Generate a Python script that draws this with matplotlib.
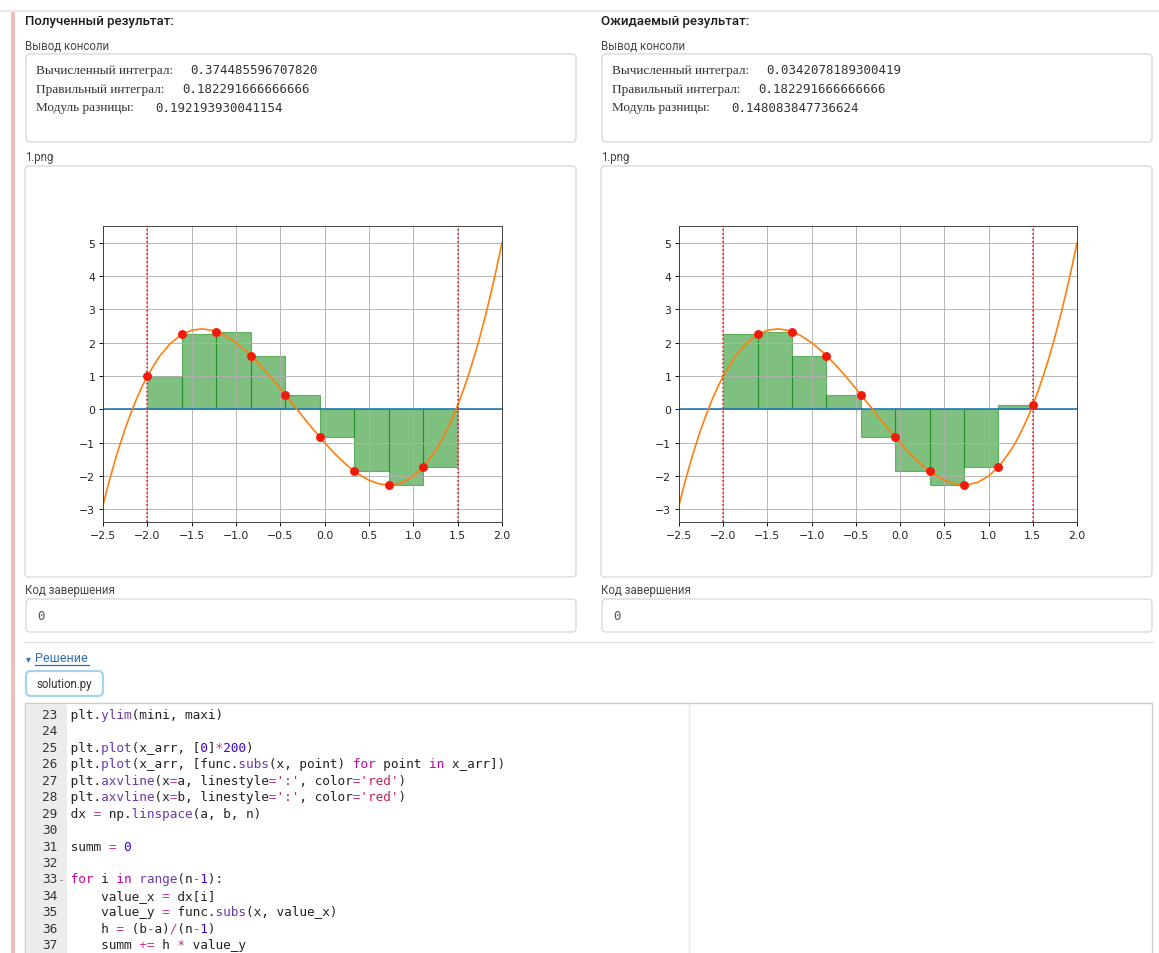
import re
import numpy as np
import matplotlib.pyplot as plt
from matplotlib.patches import FancyBboxPatch, Rectangle

W, H = 1159, 954

# integration grid np.linspace(a, b, n) and the function values at its nodes
node_x = [-2.0, -1.611, -1.222, -0.833, -0.444, -0.056, 0.333, 0.722, 1.111, 1.5]
node_y = [1.0, 2.247, 2.335, 1.615, 0.443, -0.830, -1.852, -2.268, -1.727, 0.125]

# the orange curve
curve_x = [-2.5, -2.4375, -2.375, -2.3125, -2.25, -2.1875, -2.125, -2.0625, -2.0,
           -1.875, -1.75, -1.625, -1.5, -1.375, -1.25, -1.125, -1.0, -0.875,
           -0.75, -0.625, -0.5, -0.375, -0.25, -0.125, 0.0, 0.125, 0.25, 0.375,
           0.5, 0.625, 0.75, 0.875, 1.0, 1.125, 1.25, 1.3125, 1.375, 1.4375, 1.5,
           1.5625, 1.625, 1.6875, 1.75, 1.8125, 1.875, 1.9375, 2.0]
curve_y = [-2.875, -2.228, -1.630, -1.081, -0.578, -0.120, 0.295, 0.668, 1.0,
           1.549, 1.953, 2.225, 2.375, 2.416, 2.359, 2.217, 2.0, 1.721,
           1.391, 1.022, 0.625, 0.213, -0.203, -0.611, -1.0, -1.357, -1.672, -1.932,
           -2.125, -2.240, -2.266, -2.189, -2.0, -1.685, -1.234, -0.954, -0.634, -0.276, 0.125,
           0.569, 1.057, 1.591, 2.172, 2.802, 3.483, 4.215, 5.0]

a, b = -2.0, 1.5
x_lim = (-2.5, 2.0)
y_lim = (-3.375, 5.5)
x_ticks = [-2.5, -2.0, -1.5, -1.0, -0.5, 0.0, 0.5, 1.0, 1.5, 2.0]
y_ticks = [-3, -2, -1, 0, 1, 2, 3, 4, 5]

console_labels = ["Вычисленный интеграл:", "Правильный интеграл:", "Модуль разницы:"]
got_values = ["0.374485596707820", "0.182291666666666", "0.192193930041154"]
exp_values = ["0.0342078189300419", "0.182291666666666", "0.148083847736624"]

code_lines = [
    "plt.ylim(mini, maxi)",
    "",
    "plt.plot(x_arr, [0]*200)",
    "plt.plot(x_arr, [func.subs(x, point) for point in x_arr])",
    "plt.axvline(x=a, linestyle=':', color='red')",
    "plt.axvline(x=b, linestyle=':', color='red')",
    "dx = np.linspace(a, b, n)",
    "",
    "summ = 0",
    "",
    "for i in range(n-1):",
    "    value_x = dx[i]",
    "    value_y = func.subs(x, value_x)",
    "    h = (b-a)/(n-1)",
    "    summ += h * value_y",
]
first_line_no = 23

UI = ['Roboto', 'DejaVu Sans']
MONO = 'DejaVu Sans Mono'

fig = plt.figure(figsize=(W / 100, H / 100), dpi=100)
bg = fig.add_axes([0, 0, 1, 1])
bg.set_xlim(0, W)
bg.set_ylim(H, 0)
bg.axis('off')


def box(x0, y0, x1, y1, ec='#dadada', fc='white', r=4, lw=1.0):
    bg.add_patch(FancyBboxPatch((x0 + r, y0 + r), x1 - x0 - 2 * r, y1 - y0 - 2 * r,
                                boxstyle=f"round,pad={r}", ec=ec, fc=fc, lw=lw))


# page chrome
bg.plot([0, W], [12, 12], color='#e4e9f0', lw=1.5)
bg.add_patch(Rectangle((10.5, 12), 4, H - 12, color='#f2bcbc', lw=0))

for left, right, title, vals in [(25, 576, "Полученный результат:", got_values),
                                 (601, 1152, "Ожидаемый результат:", exp_values)]:
    bg.text(left, 22, title, family=UI, fontsize=9.5, weight='medium',
            color='#1c1c1c', va='center')
    bg.text(left, 47, "Вывод консоли", family=UI, fontsize=8.3, color='#474747', va='center')
    box(left + 1, 55, right, 143)
    for i, (lab, val) in enumerate(zip(console_labels, vals)):
        y = 71 + i * 18.5
        bg.text(left + 11, y, lab, family='Liberation Serif', fontsize=9.5,
                color='#333333', va='center')
        off = [164, 156, 129][i]
        bg.text(left + 1 + off, y, val, family=MONO, fontsize=9,
                color='#333333', va='center')
    bg.text(left, 157, "1.png", family=UI, fontsize=8.3, color='#474747', va='center')
    box(left, 167, right, 578)
    bg.text(left, 591, "Код завершения", family=UI, fontsize=8.3, color='#474747', va='center')
    box(left + 1, 600, right, 633)
    bg.text(left + 12, 617, "0", family=MONO, fontsize=9, color='#555555', va='center')

bg.plot([25, 1153], [643, 643], color='#e2e2e2', lw=1)
bg.text(26, 659, "▾", family='DejaVu Sans', fontsize=7, color='#2f6fb3', va='center')
bg.text(35, 659, "Решение", family=UI, fontsize=9, color='#2f6fb3', va='center')
bg.plot([35, 89], [666, 666], color='#2f6fb3', lw=0.9)
box(26, 672, 103, 697, ec='#a7d2ef', r=5, lw=1.6)
bg.text(64.5, 684.5, "solution.py", family=UI, fontsize=8.3, color='#333333',
        ha='center', va='center')

# code editor
bg.add_patch(Rectangle((25, 704), 1127, 270, ec='#cccccc', fc='white', lw=1))
bg.add_patch(Rectangle((25.5, 704.5), 41, 270, fc='#ececec', lw=0))
bg.plot([689, 689], [705, H], color='#e6e6e6', lw=1)

code_size = 9.2
probe = bg.text(0, 0, 'x' * 60, family=MONO, fontsize=code_size)
fig.canvas.draw()
cw = probe.get_window_extent().width / 60
probe.remove()

styles = {'str': '#c4205a', 'num': '#3a00dc', 'kw': '#c800a4',
          'fn': '#6a3aa8', 'op': '#c8309a', 'other': '#222222'}
token_re = re.compile(r"(?P<str>'[^']*')|(?P<num>\b\d+\b)|(?P<kw>\b(?:for|in)\b)"
                      r"|(?P<fn>(?<=\.)\w+(?=\()|\brange\b)|(?P<op>\+=|[=*/\-])"
                      r"|(?P<other>\w+|\s+|.)")
for k, line in enumerate(code_lines):
    yb = 715 + k * 16.45 + 4
    no = first_line_no + k
    bg.text(57, yb, str(no), family=MONO, fontsize=code_size, color='#333333',
            ha='right', va='baseline')
    if line.startswith("for"):
        bg.text(59, yb, "-", family=MONO, fontsize=6, color='#555555', va='baseline')
    # one layer per colour: other characters blanked so the monospace columns line up
    layers = {}
    for m in token_re.finditer(line):
        if not m.group(0).strip():
            continue
        lay = layers.setdefault(m.lastgroup, [' '] * len(line))
        lay[m.start():m.end()] = list(m.group(0))
    for kind, chars in layers.items():
        bg.text(71 - cw, yb, ' ' + ''.join(chars).rstrip(), family=MONO,
                fontsize=code_size, color=styles[kind], va='baseline')


def draw_plot(ax, bar_heights, dot_x, dot_y):
    ax.plot(curve_x, [0] * len(curve_x), color='C0', lw=1.2)
    ax.plot(curve_x, curve_y, color='C1', lw=1.2)
    ax.axvline(x=a, linestyle=':', color='red', lw=1.1)
    ax.axvline(x=b, linestyle=':', color='red', lw=1.1)
    ax.bar(node_x[:-1], bar_heights, width=np.diff(node_x), align='edge',
           color='g', alpha=0.5, edgecolor='g', lw=0.8)
    ax.plot(dot_x, dot_y, 'o', color='#f01a0a', ms=5.4)
    ax.grid(True, color='#b0b0b0', lw=0.64)
    ax.set_xlim(*x_lim)
    ax.set_ylim(*y_lim)
    ax.set_xticks(x_ticks)
    ax.set_yticks(y_ticks)
    ax.tick_params(labelsize=7.8, labelcolor='#222222', length=2.8, width=0.64, pad=2.8)
    for s in ax.spines.values():
        s.set_linewidth(0.64)
        s.set_color('#333333')


ax_top, ax_bot = 227, 523
for left, right in [(103, 502), (679, 1077)]:
    ax = fig.add_axes([left / W, (H - ax_bot) / H, (right - left) / W, (ax_bot - ax_top) / H])
    if left < 600:
        draw_plot(ax, node_y[:-1], node_x[:-1], node_y[:-1])
    else:
        draw_plot(ax, node_y[1:], node_x[1:], node_y[1:])

fig.savefig('out.png', dpi=100)
